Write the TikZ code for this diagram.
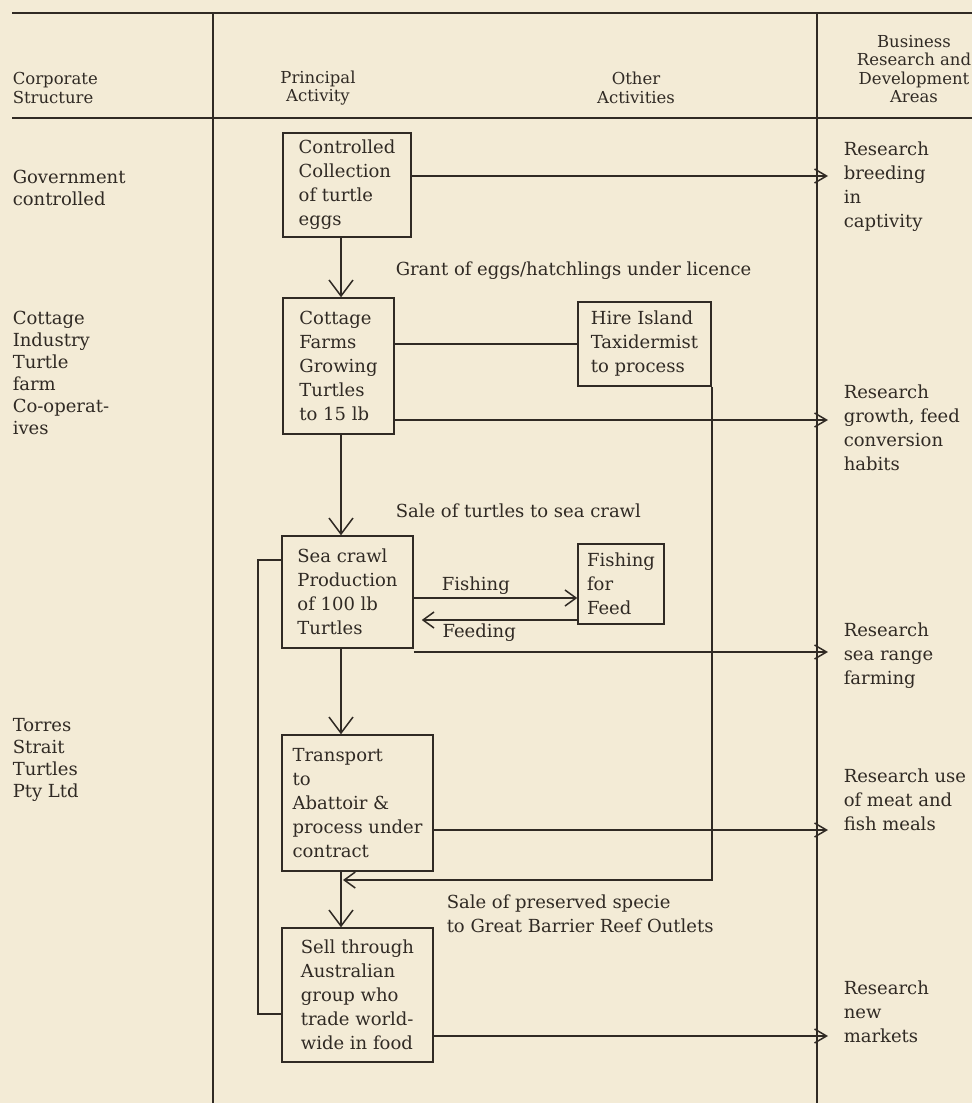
\documentclass[tikz,border=0pt]{standalone}
\usetikzlibrary{arrows.meta,quotes}
\usepackage{xcolor}
\usepackage{fontspec}
\setmainfont{DejaVu Serif}
\definecolor{paper}{RGB}{243,235,214}
\definecolor{ink}{RGB}{48,42,36}
\newcommand\stagefont{\fontsize{18}{24}\selectfont}
\newcommand\sidefont{\fontsize{18}{22}\selectfont}
\newcommand\headfont{\fontsize{16.5}{18.5}\selectfont}

\begin{document}
\begin{tikzpicture}[x=1pt, y=-1pt, line width=1.5pt, color=ink, font=\stagefont,
  stage/.style={draw, align=left, inner sep=0pt},
  side/.style={anchor=west, align=left, font=\sidefont, inner sep=0pt},
  headtext/.style={align=center, font=\headfont, inner sep=0pt},
  note/.style={anchor=west, align=left, inner sep=0pt},
  downarrow/.style={-{Straight Barb[length=16pt,width=24pt]}},
  resarrow/.style={-{Straight Barb[length=12pt,width=14pt]}},
  feedarrow/.style={-{Straight Barb[length=11pt,width=16pt]}},
  every edge quotes/.append style={auto, inner sep=3pt}]
  \useasboundingbox (0,0) rectangle (972,1103);
  \fill[paper] (0,0) rectangle (972,1103);
  \draw (12,13) -- (972,13) (12,118) -- (972,118)
    (213,13) -- (213,1103) (817,13) -- (817,1103);

  \node[headtext, anchor=west, align=left] (corp) at (12,88) {Corporate\\Structure};
  \node[headtext] (princ) at (318,88) {Principal\\Activity};
  \node[headtext] (other) at (636,88) {Other\\Activities};
  \node[headtext] (rnd) at (914,69) {Business\\Research and\\Development\\Areas};

  \node[side] (gov) at (12,188) {Government\\controlled};
  \node[side] (coop) at (12,373) {Cottage\\Industry\\Turtle\\farm\\Co-operat-\\ives};
  \node[side] (tst) at (12,760) {Torres\\Strait\\Turtles\\Pty Ltd};

  \node[stage, minimum width=128, minimum height=104] (collect) at (347,185) {Controlled\\Collection\\of turtle\\eggs};
  \node[stage, minimum width=111, minimum height=136] (farms) at (338.5,366) {Cottage\\Farms\\Growing\\Turtles\\to 15 lb};
  \node[stage, minimum width=133, minimum height=84] (taxid) at (644.5,344) {Hire Island\\Taxidermist\\to process};
  \node[stage, minimum width=131, minimum height=112] (seacrawl) at (347.5,592) {Sea crawl\\Production\\of 100 lb\\Turtles};
  \node[stage, minimum width=86, minimum height=80] (fishfeed) at (621,584) {Fishing\\for\\Feed};
  \node[stage, minimum width=151, minimum height=136] (abattoir) at (357.5,803) {Transport\\to\\Abattoir \&\\process under\\contract};
  \node[stage, minimum width=151, minimum height=134] (sell) at (357.5,995) {Sell through\\Australian\\group who\\trade world-\\wide in food};

  \node[note] (res1) at (843,187) {Research\\breeding\\in\\captivity};
  \node[note] (res2) at (843,428) {Research\\growth, feed\\conversion\\habits};
  \node[note] (res3) at (843,656) {Research\\sea range\\farming};
  \node[note] (res4) at (843,800) {Research use\\of meat and\\fish meals};
  \node[note] (res5) at (843,1012) {Research\\new\\markets};

  \node[note] (grant) at (395,271) {Grant of eggs/hatchlings under licence};
  \node[note] (sale) at (395,511) {Sale of turtles to sea crawl};
  \node[note] (outlets) at (446,914) {Sale of preserved specie\\to Great Barrier Reef Outlets};

  \coordinate (spine) at (341,0);
  \coordinate (tip1) at (828,176);
  \coordinate (tip2) at (828,420);
  \coordinate (tip3) at (828,652);
  \coordinate (tip4) at (828,830);
  \coordinate (tip5) at (828,1036);
  \coordinate (outlet) at (343,880);
  \coordinate (loop) at (258,560);

  \draw[downarrow] (spine |- collect.south) -- (spine |- farms.north);
  \draw[downarrow] (spine |- farms.south) -- (spine |- seacrawl.north);
  \draw[downarrow] (spine |- seacrawl.south) -- (spine |- abattoir.north);
  \draw[downarrow] (spine |- abattoir.south) -- (spine |- sell.north);

  \draw[resarrow] (collect.east |- tip1) -- (tip1);
  \draw[resarrow] (farms.east |- tip2) -- (tip2);
  \draw[resarrow] (seacrawl.east |- tip3) -- (tip3);
  \draw[resarrow] (abattoir.east |- tip4) -- (tip4);
  \draw[resarrow] (sell.east |- tip5) -- (tip5);

  \draw (farms.east |- taxid.west) -- (taxid.west);
  \draw[feedarrow] (taxid.south east) |- (outlet);
  \path[every edge/.append style={feedarrow}]
    ([yshift=-6pt]seacrawl.east) coordinate (fa) edge ["Fishing" {pos=.38}] (fa -| fishfeed.west)
    ([yshift=-28pt]seacrawl.east) coordinate (fb)
    (fb -| fishfeed.west) edge [shorten >=8pt, "Feeding" {pos=.6}] (fb);
  \draw ([yshift=-19pt]sell.west) -| (loop) -- (loop -| seacrawl.west);
\end{tikzpicture}
\end{document}
